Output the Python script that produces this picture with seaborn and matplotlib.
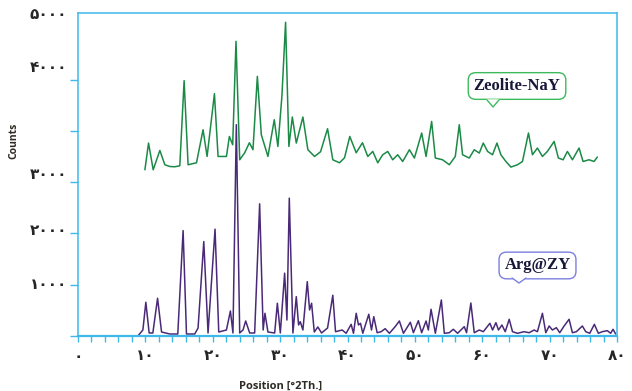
import matplotlib
matplotlib.use("Agg")
from matplotlib import pyplot as plt
from matplotlib.ticker import MultipleLocator, FixedLocator, NullFormatter
import pandas as pd
import seaborn as sns

sns.set_style("white")
plt.rcParams['font.family'] = ['DejaVu Sans']

# 2theta / counts
zeolite_x = [9.93, 10.47, 11.16, 12.15, 12.89, 13.63, 14.37, 15.11, 15.75, 16.34,
             17.59, 18.56, 19.16, 20.25, 20.79, 22.03, 22.47, 22.96, 23.45, 24.0,
             24.74, 25.44, 25.97, 26.62, 27.21, 28.19, 29.13, 29.67, 30.27, 30.81,
             31.3, 31.81, 32.4, 33.38, 34.12, 35.11, 36.0, 37.04, 37.82, 38.81,
             39.56, 40.34, 41.29, 42.22, 43.01, 43.75, 44.49, 45.23, 45.97, 46.71,
             47.45, 48.19, 49.19, 49.93, 51.01, 51.66, 52.49, 53.04, 54.12, 55.11,
             56.0, 56.59, 57.08, 58.07, 58.81, 59.56, 60.15, 60.79, 61.53, 62.18,
             62.77, 63.51, 64.25, 65.23, 65.97, 66.86, 67.45, 68.19, 68.93, 69.67,
             70.67, 71.3, 72.0, 72.64, 73.38, 74.37, 74.96, 75.85, 76.59, 77.08]
zeolite_y = [3242, 3763, 3242, 3619, 3340, 3306, 3301, 3320, 4980, 3340,
             3379, 4023, 3502, 4726, 3502, 3502, 3892, 3730, 5748, 3437,
             3574, 3769, 3633, 5064, 3925, 3502, 4218, 3697, 4687, 6119,
             3697, 4271, 3763, 4271, 3633, 3502, 3594, 4043, 3437, 3379,
             3476, 3892, 3574, 3769, 3502, 3600, 3379, 3535, 3600, 3437,
             3535, 3404, 3633, 3471, 3959, 3502, 4185, 3471, 3437, 3340,
             3502, 4121, 3535, 3471, 3633, 3568, 3763, 3600, 3535, 3763,
             3535, 3404, 3295, 3340, 3404, 3959, 3535, 3666, 3502, 3600,
             3795, 3471, 3437, 3600, 3437, 3666, 3404, 3437, 3404, 3490]

arg_x = [8.89, 9.63, 10.07, 10.56, 11.11, 11.81, 12.4, 13.63, 14.81, 15.6,
         16.1, 17.33, 17.82, 18.67, 19.3, 20.34, 20.89, 22.03, 22.62, 23.0,
         23.5, 24.0, 24.49, 24.89, 25.48, 26.22, 26.96, 27.48, 27.75, 28.19,
         29.19, 29.59, 30.03, 30.67, 31.01, 31.36, 31.9, 32.4, 32.74, 32.99,
         33.38, 34.03, 34.37, 34.67, 35.07, 35.6, 36.15, 37.04, 37.82, 38.22,
         39.21, 39.8, 40.54, 40.89, 41.29, 41.63, 41.93, 42.27, 43.16, 43.56,
         43.9, 44.4, 44.99, 45.59, 46.22, 47.07, 47.7, 48.3, 49.33, 49.78,
         50.52, 51.01, 51.66, 52.0, 52.4, 53.04, 53.93, 54.37, 55.11, 55.7,
         56.34, 57.33, 57.67, 58.31, 58.81, 59.56, 60.15, 60.55, 61.14, 61.53,
         62.03, 62.41, 62.92, 63.41, 64.0, 64.49, 65.23, 66.22, 66.96, 67.7,
         68.19, 68.93, 69.43, 69.93, 70.41, 71.0, 71.5, 72.15, 72.89, 73.38,
         73.97, 74.86, 75.36, 75.96, 76.64, 77.23, 77.82, 78.56, 79.06, 79.41,
         79.8]
arg_y = [0, 117, 658, 59, 59, 736, 78, 39, 39, 2056,
         39, 39, 156, 1842, 59, 2084, 78, 117, 488, 59,
         4121, 59, 117, 293, 59, 59, 2578, 117, 443, 78,
         59, 639, 59, 1225, 312, 2689, 59, 768, 215, 279,
         117, 1060, 508, 639, 78, 176, 59, 156, 795, 84,
         117, 53, 228, 53, 443, 215, 248, 53, 424, 117,
         377, 64, 84, 143, 53, 182, 293, 53, 268, 64,
         299, 64, 293, 117, 521, 53, 703, 53, 64, 131,
         53, 182, 64, 644, 64, 117, 84, 150, 248, 117,
         260, 117, 215, 84, 326, 84, 53, 84, 64, 117,
         84, 443, 64, 195, 117, 162, 64, 195, 326, 64,
         84, 195, 84, 53, 228, 53, 84, 104, 53, 131,
         39]

fa = "۰۱۲۳۴۵۶۷۸۹"


def fa_num(n):
    return "".join(fa[int(c)] for c in str(n))


x_ticks = [0, 10, 20, 30, 40, 50, 60, 70, 80]
y_ticks = [0, 1000, 2000, 3000, 4000, 5000]
# the y labels in the source image sit off their ticks
y_label_pos = [0, 1035, 2090, 3184, 5273, 6300]
y_label_txt = [0, 1000, 2000, 3000, 4000, 5000]

green = "#1b8a47"
purple = "#4a2a78"
axis_col = "#3fb9ea"


def make_plot():
    data = pd.concat([
        pd.DataFrame({"Position": zeolite_x, "Counts": zeolite_y, "Sample": "Zeolite-NaY"}),
        pd.DataFrame({"Position": arg_x, "Counts": arg_y, "Sample": "Arg@ZY"}),
    ])

    fig = plt.figure(figsize=(6.32, 3.91), dpi=100)
    ax = fig.add_axes([78 / 632, 55 / 391, 539 / 632, 323 / 391])
    sns.lineplot(data=data, x="Position", y="Counts", hue="Sample",
                 hue_order=["Zeolite-NaY", "Arg@ZY"],
                 palette={"Zeolite-NaY": green, "Arg@ZY": purple},
                 estimator=None, sort=False, linewidth=1.1, legend=False, ax=ax)

    ax.set_xlim(0, 80)
    ax.set_ylim(0, 6300)
    for s in ax.spines.values():
        s.set_color(axis_col)
        s.set_linewidth(1.1)
    ax.spines["bottom"].set_linewidth(1.6)

    ax.xaxis.set_major_locator(FixedLocator(x_ticks))
    ax.xaxis.set_minor_locator(MultipleLocator(2))
    ax.set_xticklabels([fa_num(v) for v in x_ticks], fontsize=11, fontweight="bold")
    ax.tick_params(axis="x", which="both", direction="out", length=4, width=1,
                   color=axis_col, bottom=True, pad=5)

    ax.yaxis.set_major_locator(FixedLocator(y_ticks))
    ax.yaxis.set_major_formatter(NullFormatter())
    ax.yaxis.set_minor_locator(FixedLocator(y_label_pos))
    ax.set_yticklabels([fa_num(v) for v in y_label_txt], minor=True,
                       fontsize=11, fontweight="bold")
    ax.tick_params(axis="y", which="major", direction="out", length=6, width=1,
                   color=axis_col, left=True)
    ax.tick_params(axis="y", which="minor", length=0, left=True, pad=8)

    ax.set_xlabel("Position [°2Th.]", family=["Open Sans", "DejaVu Sans"],
                  fontsize=8, fontweight="bold", color="#2e2a24")
    ax.xaxis.set_label_coords(0.375, -0.139)
    ax.set_ylabel("Counts", family=["Open Sans", "DejaVu Sans"],
                  fontsize=7.5, fontweight="bold", color="#2e2a24")
    ax.yaxis.set_label_coords(-0.108, 0.604)

    # callout labels
    callouts = [("Zeolite-NaY", 0.8145, 0.774, "#3dbb5c",
                 [(0.7588, 0.7307), (0.770, 0.709), (0.781, 0.7307)]),
                ("Arg@ZY", 0.8525, 0.2183, "#7b7fe0",
                 [(0.8052, 0.1796), (0.8182, 0.1641), (0.8312, 0.1796)])]
    for label, tx, ty, ec, notch in callouts:
        ax.text(tx, ty, label, transform=ax.transAxes, ha="center", va="center",
                family=["Liberation Serif", "DejaVu Serif"], fontsize=12,
                fontweight="bold", color="#17173a", zorder=5,
                bbox=dict(boxstyle="round,pad=0.32,rounding_size=0.45",
                          fc="white", ec=ec, lw=1))
        ax.fill([p[0] for p in notch], [p[1] for p in notch], color="white",
                transform=ax.transAxes, zorder=6, clip_on=False)
        ax.plot([p[0] for p in notch], [p[1] for p in notch], color=ec, lw=1,
                transform=ax.transAxes, zorder=7, clip_on=False)

    plt.savefig("out.png", dpi=100)


if __name__ == "__main__":
    make_plot()
